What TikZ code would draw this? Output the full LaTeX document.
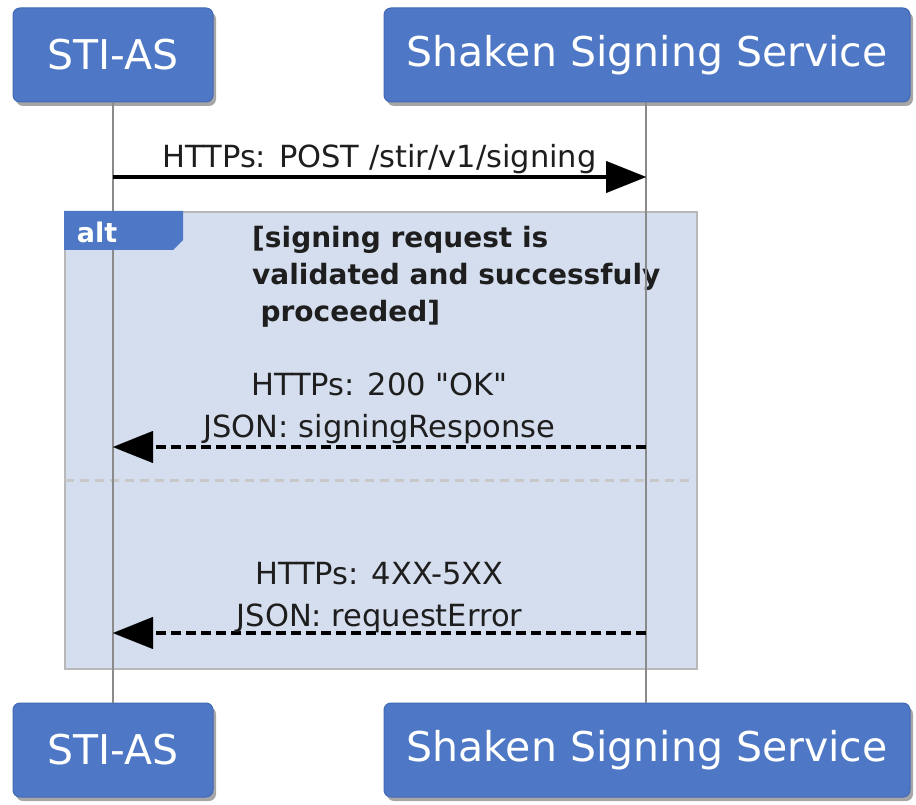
\documentclass[tikz,border=0pt]{standalone}
\usepackage{fontspec}
\setmainfont{DejaVu Sans}[Ligatures=TeXOff]
\usetikzlibrary{shadows,arrows.meta}
\definecolor{partblue}{HTML}{4E78C5}
\definecolor{partedge}{HTML}{416AB4}
\definecolor{framefill}{HTML}{D5DEEE}
\definecolor{framegray}{HTML}{B8B8B8}
\definecolor{lifegray}{HTML}{8A8A8A}
\definecolor{dashgray}{HTML}{C8C8C8}
\definecolor{labeltext}{HTML}{1E1E1E}
\begin{document}
\begin{tikzpicture}[x=1pt,y=-1pt,
  part/.style={rectangle, rounded corners=7pt, fill=partblue, draw=partedge, line width=1pt,
    text=white, font=\fontsize{41}{48}\selectfont, minimum height=94pt, inner sep=0pt,
    drop shadow={shadow xshift=3pt, shadow yshift=-4pt, opacity=0.35, fill=black}},
  lifeline/.style={draw=lifegray, line width=2.5pt},
  msg/.style={draw=black, line width=3.5pt, -{Triangle[length=40pt,width=32pt,line width=0.1pt]}},
  reply/.style={msg, dash pattern=on 10pt off 5pt},
  lbl/.style={font=\fontsize{30.5}{42}\selectfont, text=labeltext, inner sep=0pt, align=center},
  cond/.style={font=\bfseries\fontsize{28}{37}\selectfont, text=labeltext, inner sep=0pt, align=left}
]
\useasboundingbox (0,0) rectangle (916,805);
\fill[white] (0,0) rectangle (916,805);

% alt frame
\node[draw=framegray, fill=framefill, line width=2pt, minimum width=632pt, minimum height=457pt,
  inner sep=0pt, anchor=north west] (altframe) at (64,211) {};
\coordinate (divL) at (65,480);
\coordinate (divR) at (695,480);
\draw[dashgray, line width=3pt, dash pattern=on 9pt off 6pt] (divL) -- (divR);
\node[cond, anchor=north west] (guard) at (252,226) {[signing request is\\validated and successfuly\\\hspace{0.3em}proceeded]};

% participants
\node[part, minimum width=200pt] (staT) at (113,55) {STI-AS};
\node[part, minimum width=526pt] (sssT) at (647,55) {Shaken Signing Service};
\node[part, minimum width=200pt] (staB) at (113,750) {STI-AS};
\node[part, minimum width=526pt] (sssB) at (647,750) {Shaken Signing Service};

% lifelines
\draw[lifeline] (staT.south) -- (staB.north);
\draw[lifeline] ([xshift=-1pt]sssT.south) -- ([xshift=-1pt]sssB.north);

% alt tab (on top of the lifeline)
\fill[partblue] (altframe.north west) -- ++(119,0) -- ++(0,29) -- ++(-10,10) -- ++(-109,0) -- cycle;
\node[font=\bfseries\fontsize{27}{30}\selectfont, text=white, inner sep=0pt] (alttag) at (97,232) {alt};

% messages
\coordinate (a1) at (113,177);
\coordinate (b1) at (646,177);
\coordinate (a2) at (113,447);
\coordinate (b2) at (646,447);
\coordinate (a3) at (113,633);
\coordinate (b3) at (646,633);

\draw[msg] (a1) -- (b1) node[lbl, midway, anchor=south, yshift=1pt] {HTTPs: POST /stir/v1/signing};
\draw[reply] (b2) -- (a2) node[lbl, midway, anchor=south, yshift=1pt] {HTTPs: 200 "OK"\\JSON: signingResponse};
\draw[reply] (b3) -- (a3) node[lbl, midway, anchor=south, yshift=-2pt] {HTTPs: 4XX-5XX\\JSON: requestError};
\end{tikzpicture}
\end{document}
